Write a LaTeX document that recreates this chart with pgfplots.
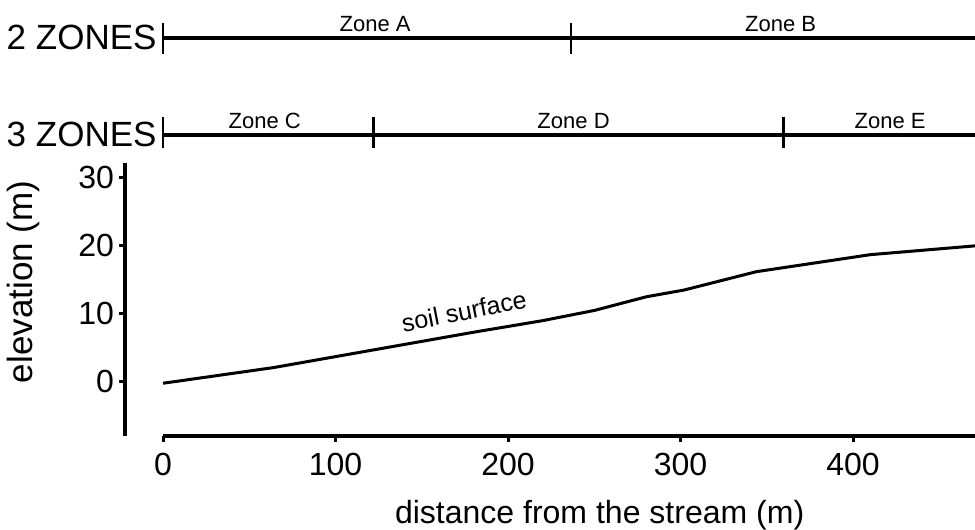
\documentclass[border=0pt]{standalone}
\usepackage{fontspec}
\setmainfont{Liberation Sans}
\usepackage{pgfplots}
\pgfplotsset{compat=1.18}
\begin{document}
\begin{tikzpicture}
\begin{axis}[
  scale only axis,
  width=425pt, height=136pt,
  xmin=-22, xmax=471, ymin=-8, ymax=32,
  clip=false,
  axis x line*=bottom, axis y line*=left,
  x axis line style={draw=none},
  y axis line style={line width=1.6pt, black},
  xtick={0,100,200,300,400},
  ytick={0,10,20,30},
  tick align=outside,
  major tick length=3pt,
  tick style={line width=1.5pt, black},
  ticklabel style={font=\fontsize{16}{18}\selectfont},
  /pgf/number format/assume math mode=true,
  xticklabel style={yshift=-2pt},
  yticklabel style={xshift=1pt},
  xlabel={distance from the stream (m)},
  ylabel={elevation (m)},
  xlabel style={font=\fontsize{16}{19}\selectfont, at={(axis description cs:0.558,-0.322)}, anchor=base},
  ylabel style={font=\fontsize{17.5}{20}\selectfont, at={(axis description cs:-0.1083,0.565)}, anchor=base},
]
% soil surface profile
\addplot[black, line width=1.5pt] coordinates {
  (0,-0.3) (64,2.0) (180,7.2) (220,8.9) (250,10.4) (280,12.4)
  (302,13.4) (344,16.1) (410,18.6) (471,19.9)
};
\node[anchor=base, rotate=11, font=\fontsize{12.5}{14}\selectfont] at (axis cs:175.5,9.0) {soil surface};
% bottom spine (starts at 0)
\addplot[black, line width=2pt] coordinates {(0,-8) (471,-8)};
% 2 zones
\addplot[black, line width=2.2pt] coordinates {(0,50.44) (471,50.44)};
\addplot[black, line width=1.4pt] coordinates {(0,48.1) (0,52.6)};
\addplot[black, line width=1.4pt] coordinates {(236.5,48.1) (236.5,52.6)};
% 3 zones
\addplot[black, line width=2.2pt] coordinates {(0,36.2) (471,36.2)};
\addplot[black, line width=1.4pt] coordinates {(0,34.3) (0,38.8)};
\addplot[black, line width=1.4pt] coordinates {(121.9,34.3) (121.9,38.8)};
\addplot[black, line width=1.4pt] coordinates {(359.6,34.3) (359.6,38.8)};
% zone texts
\node[anchor=east, inner sep=0pt, font=\fontsize{17.5}{20}\selectfont] at (axis cs:-3.5,50.5) {2 ZONES};
\node[anchor=east, inner sep=0pt, font=\fontsize{17.5}{20}\selectfont] at (axis cs:-3.5,36.3) {3 ZONES};
\node[anchor=base, inner sep=0pt, font=\fontsize{11}{13}\selectfont] at (axis cs:123,51.4) {Zone A};
\node[anchor=base, inner sep=0pt, font=\fontsize{11}{13}\selectfont] at (axis cs:358,51.4) {Zone B};
\node[anchor=base, inner sep=0pt, font=\fontsize{11}{13}\selectfont] at (axis cs:59,37.15) {Zone C};
\node[anchor=base, inner sep=0pt, font=\fontsize{11}{13}\selectfont] at (axis cs:238,37.15) {Zone D};
\node[anchor=base, inner sep=0pt, font=\fontsize{11}{13}\selectfont] at (axis cs:421.5,37.15) {Zone E};
\coordinate (bbsw) at (axis cs:-94.5,-21.76);
\coordinate (bbne) at (axis cs:470.7,56.03);
\end{axis}
\pgfresetboundingbox
\path (bbsw) rectangle (bbne);
\end{tikzpicture}
\end{document}
